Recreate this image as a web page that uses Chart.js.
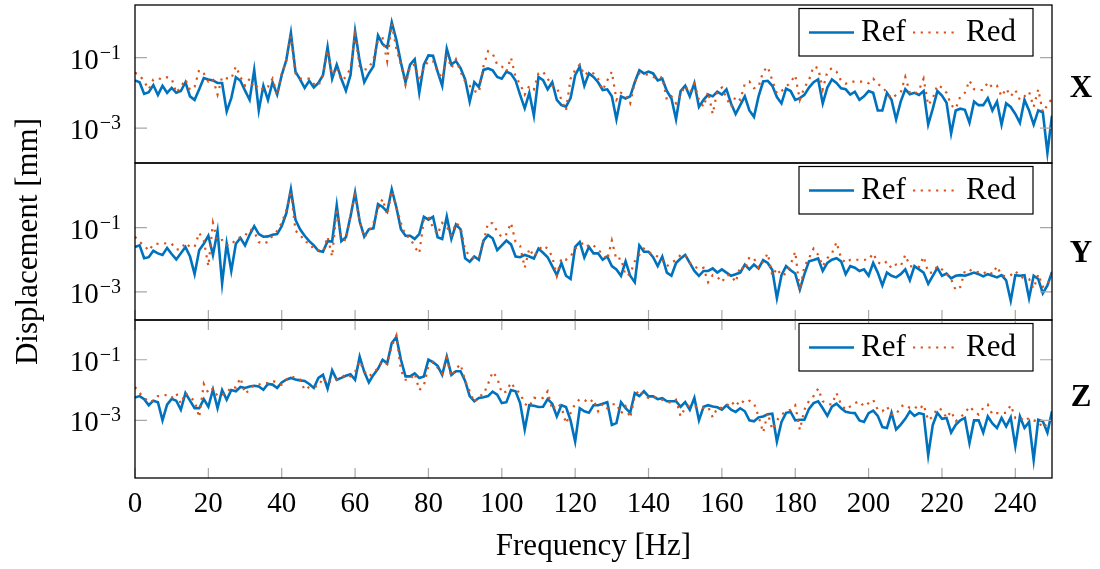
<!DOCTYPE html>
<html>
<head>
<meta charset="utf-8">
<script src="https://cdn.jsdelivr.net/npm/chart.js@4.4.0/dist/chart.umd.min.js"></script>
<style>
  body { margin: 0; background: #fff; }
  #wrap { position: relative; width: 1100px; height: 569px; }
  #wrap canvas { position: absolute; left: 0; top: 0; }
</style>
</head>
<body>
<div id="wrap">
  <canvas id="cX" width="1100" height="569"></canvas>
  <canvas id="cY" width="1100" height="569"></canvas>
  <canvas id="cZ" width="1100" height="569"></canvas>
</div>
<script>
// spacing of the frequency samples [Hz]
const freqStep = 1.25;

// values are log10 of the displacement in mm
const refX = [
  -1.65,-1.7,-2.03,-1.98,-1.78,-2.06,-1.8,-2.0,-1.86,-2.0,
  -1.95,-1.7,-2.1,-2.2,-1.9,-1.58,-1.62,-1.65,-1.72,-1.72,
  -2.53,-2.15,-1.56,-1.66,-1.94,-2.2,-1.35,-2.5,-1.8,-2.2,
  -1.7,-2.05,-1.5,-1.07,-0.3,-1.4,-1.62,-1.86,-1.66,-1.85,
  -1.72,-1.5,-0.7,-1.6,-1.2,-1.6,-1.94,-1.5,-0.25,-1.1,
  -1.7,-1.45,-1.25,-0.37,-0.62,-0.72,0.0,-0.5,-1.15,-1.7,
  -1.2,-1.05,-2.0,-1.2,-0.94,-0.95,-1.4,-1.8,-0.75,-1.2,
  -1.1,-1.3,-1.62,-2.25,-1.7,-1.84,-1.35,-1.31,-1.36,-1.55,
  -1.6,-1.4,-1.46,-1.65,-2.06,-2.44,-2.0,-2.65,-1.55,-1.64,
  -1.9,-1.7,-2.2,-2.35,-2.39,-2.15,-1.5,-1.26,-1.8,-1.45,
  -1.55,-1.7,-1.92,-1.9,-2.1,-2.75,-2.1,-2.16,-2.1,-1.7,
  -1.36,-1.45,-1.4,-1.45,-1.65,-1.6,-1.95,-2.16,-2.75,-1.95,
  -1.8,-2.1,-1.73,-2.4,-2.2,-2.05,-2.1,-1.97,-2.05,-1.9,
  -2.3,-2.6,-2.35,-2.1,-2.5,-2.68,-2.1,-1.68,-1.66,-1.8,
  -2.12,-2.3,-1.88,-1.95,-2.2,-2.15,-2.06,-1.85,-1.7,-1.62,
  -2.3,-1.85,-1.62,-1.72,-1.87,-1.9,-2.05,-1.97,-2.2,-2.1,
  -1.95,-2.0,-2.5,-2.5,-2.0,-2.2,-2.75,-2.25,-1.9,-2.04,
  -2.0,-2.06,-1.95,-2.9,-2.45,-1.95,-2.08,-2.28,-3.15,-2.5,
  -2.45,-2.48,-2.85,-2.25,-2.35,-2.35,-2.15,-2.5,-2.25,-2.9,
  -2.3,-2.4,-2.6,-2.85,-2.2,-2.5,-2.9,-2.5,-2.55,-3.7,
  -2.65
];
const redX = [
  -1.43,-1.5,-1.68,-1.9,-1.62,-1.59,-1.62,-1.56,-1.6,-2.0,
  -1.83,-1.62,-1.92,-1.83,-1.35,-1.45,-1.68,-1.6,-2.05,-1.55,
  -1.59,-1.6,-1.25,-1.55,-1.8,-1.6,-1.88,-1.78,-1.92,-1.83,
  -1.6,-2.06,-1.45,-1.1,-0.4,-1.45,-1.6,-1.6,-1.6,-1.75,
  -1.8,-1.5,-0.8,-1.5,-1.3,-1.65,-1.55,-1.3,-0.35,-1.25,
  -1.35,-1.3,-1.05,-0.5,-0.45,-1.1,-0.05,-0.75,-1.2,-1.78,
  -1.25,-1.2,-1.68,-1.28,-1.1,-1.1,-1.4,-1.6,-0.9,-1.3,
  -1.05,-1.4,-1.68,-1.8,-1.95,-2.0,-1.25,-0.82,-0.88,-1.2,
  -1.25,-1.4,-1.0,-1.55,-1.75,-2.05,-1.8,-1.9,-1.45,-1.4,
  -1.6,-1.8,-1.85,-2.2,-2.5,-1.6,-1.35,-1.2,-1.5,-1.4,
  -1.45,-1.6,-1.92,-1.65,-1.4,-2.2,-2.0,-2.05,-2.3,-1.7,
  -1.45,-1.45,-1.5,-1.55,-1.6,-1.55,-2.2,-2.1,-2.3,-2.05,
  -1.8,-2.0,-1.75,-2.2,-2.4,-1.97,-2.6,-1.95,-1.85,-2.15,
  -2.4,-2.1,-2.2,-1.75,-1.68,-1.87,-1.83,-1.4,-1.26,-1.65,
  -2.02,-1.95,-1.83,-1.7,-1.5,-2.2,-1.85,-1.64,-1.25,-1.3,
  -1.9,-1.4,-1.3,-1.4,-1.66,-1.74,-1.68,-1.68,-1.68,-1.68,
  -1.73,-1.6,-1.75,-1.83,-2.0,-2.16,-2.06,-2.0,-1.55,-2.0,
  -2.04,-1.92,-1.6,-2.35,-2.16,-1.78,-1.85,-2.0,-2.35,-2.45,
  -2.1,-2.0,-1.65,-1.9,-1.92,-1.92,-1.7,-1.85,-1.8,-2.1,
  -1.88,-2.1,-1.92,-2.2,-2.1,-1.97,-2.4,-1.9,-2.55,-2.35,
  -2.16
];
const refY = [
  -1.6,-1.55,-1.95,-1.92,-1.72,-1.8,-1.85,-1.63,-1.82,-1.99,
  -1.8,-1.6,-1.9,-2.45,-1.7,-1.5,-1.25,-1.85,-1.1,-2.74,
  -1.5,-2.35,-1.5,-1.32,-1.55,-1.22,-0.95,-1.2,-1.28,-1.27,
  -1.22,-1.2,-0.95,-0.55,0.2,-0.75,-1.05,-1.25,-1.42,-1.55,
  -1.72,-1.75,-1.42,-1.43,-0.3,-1.42,-1.3,-0.65,0.1,-0.8,
  -1.28,-1.05,-1.02,-0.26,-0.35,-0.5,0.2,-0.36,-1.05,-1.25,
  -1.25,-1.35,-1.2,-0.66,-0.75,-0.66,-1.3,-1.35,-0.65,-1.35,
  -0.9,-1.05,-1.95,-2.06,-1.9,-2.0,-1.4,-1.23,-1.33,-1.7,
  -1.55,-1.4,-1.52,-1.9,-1.92,-1.85,-1.9,-1.96,-1.65,-1.78,
  -1.92,-2.2,-2.48,-2.1,-2.5,-2.6,-1.6,-1.45,-1.93,-1.6,
  -1.8,-1.8,-2.0,-1.9,-2.2,-2.3,-2.5,-2.05,-2.5,-2.7,
  -1.55,-1.75,-1.75,-1.92,-2.2,-1.9,-2.4,-2.5,-2.1,-1.96,
  -1.85,-2.1,-2.35,-2.5,-2.35,-2.35,-2.27,-2.4,-2.3,-2.4,
  -2.5,-2.45,-2.4,-2.15,-2.3,-2.15,-2.27,-2.01,-2.1,-2.32,
  -3.2,-2.48,-2.2,-2.33,-2.43,-2.93,-2.45,-2.05,-2.01,-1.96,
  -2.35,-2.1,-2.0,-1.95,-2.05,-2.45,-2.2,-2.25,-2.35,-2.3,
  -2.5,-2.1,-2.4,-2.8,-2.4,-2.5,-2.55,-2.45,-2.3,-2.64,
  -2.2,-2.3,-2.4,-2.75,-2.5,-2.25,-2.5,-2.43,-2.58,-2.5,
  -2.48,-2.5,-2.45,-2.4,-2.45,-2.52,-2.45,-2.5,-2.55,-2.48,
  -2.64,-3.28,-2.48,-2.5,-2.48,-3.2,-2.5,-2.6,-3.05,-2.8,
  -2.38
];
const redY = [
  -1.28,-1.45,-1.55,-1.72,-1.52,-1.5,-1.5,-1.48,-1.5,-1.68,
  -1.67,-1.47,-1.6,-1.6,-1.16,-1.4,-2.2,-0.85,-1.42,-1.38,
  -1.54,-1.54,-1.35,-1.3,-1.25,-1.05,-1.12,-1.45,-1.5,-1.44,
  -1.25,-1.1,-0.85,-0.45,0.15,-1.1,-1.2,-1.44,-1.47,-1.68,
  -1.7,-1.75,-1.28,-1.9,-0.4,-1.33,-1.4,-0.6,0.0,-0.8,
  -1.3,-1.1,-0.85,-0.4,-0.1,-0.6,0.15,-0.35,-0.85,-1.25,
  -1.32,-1.6,-1.8,-0.75,-0.65,-1.0,-1.2,-0.85,-0.97,-1.23,
  -0.85,-0.98,-1.7,-1.88,-1.95,-1.96,-1.45,-0.85,-0.86,-1.12,
  -1.3,-1.2,-0.85,-1.44,-1.57,-2.25,-1.65,-1.9,-1.7,-1.55,
  -1.65,-1.9,-2.5,-1.95,-2.0,-1.9,-1.65,-1.55,-1.45,-1.6,
  -1.55,-1.7,-1.8,-2.0,-1.4,-2.0,-1.95,-2.5,-2.45,-2.05,
  -1.85,-1.65,-1.75,-1.85,-1.9,-2.0,-2.2,-2.1,-2.0,-1.85,
  -1.85,-2.1,-2.2,-2.3,-2.25,-2.7,-2.48,-2.53,-2.7,-2.48,
  -2.48,-2.7,-2.2,-2.32,-1.92,-1.96,-2.25,-2.06,-1.8,-2.5,
  -2.27,-2.5,-2.43,-2.15,-1.75,-2.95,-2.2,-1.95,-1.65,-1.85,
  -2.2,-1.95,-1.8,-1.45,-1.95,-2.1,-2.0,-2.0,-2.0,-2.0,
  -2.0,-1.8,-2.08,-2.15,-2.05,-2.27,-2.15,-2.2,-1.85,-2.2,
  -2.22,-2.22,-1.9,-2.4,-2.4,-2.2,-2.3,-2.43,-2.6,-2.95,
  -2.85,-2.35,-2.3,-2.4,-2.38,-2.43,-2.35,-2.45,-2.2,-2.48,
  -2.52,-2.48,-2.35,-2.52,-2.58,-2.6,-2.9,-2.45,-2.84,-2.78,
  -2.43
];
const refZ = [
  -2.25,-2.2,-2.3,-2.5,-2.35,-2.4,-3.0,-2.48,-2.29,-2.35,
  -2.65,-2.1,-2.35,-2.6,-2.6,-2.3,-2.55,-1.99,-2.6,-2.0,
  -2.32,-2.0,-2.04,-1.9,-1.93,-1.88,-1.86,-1.88,-1.99,-1.8,
  -1.82,-1.93,-1.75,-1.66,-1.6,-1.65,-1.68,-1.7,-1.8,-1.93,
  -1.6,-1.5,-1.95,-1.35,-1.66,-1.6,-1.53,-1.48,-1.66,-0.9,
  -1.4,-1.75,-1.5,-1.3,-1.0,-1.12,-0.45,-0.25,-1.0,-1.55,
  -1.55,-1.45,-1.6,-1.55,-1.0,-1.08,-1.2,-1.5,-0.9,-1.5,
  -1.38,-1.38,-1.7,-2.2,-2.37,-2.26,-2.24,-2.2,-2.05,-2.15,
  -2.43,-2.4,-2.0,-2.04,-2.43,-3.3,-2.5,-2.52,-2.56,-2.55,
  -2.3,-2.45,-2.87,-2.5,-2.56,-3.0,-3.7,-2.6,-2.7,-2.75,
  -2.5,-2.5,-2.45,-2.4,-3.15,-3.09,-2.4,-2.6,-2.75,-2.1,
  -2.2,-2.04,-2.21,-2.21,-2.3,-2.27,-2.37,-2.37,-2.37,-2.55,
  -2.4,-2.65,-2.26,-3.0,-2.55,-2.5,-2.54,-2.57,-2.65,-2.5,
  -2.65,-2.72,-2.6,-2.7,-3.0,-3.03,-2.9,-2.87,-2.8,-2.78,
  -3.7,-3.05,-2.75,-2.72,-3.0,-2.98,-2.98,-2.62,-2.43,-2.37,
  -2.6,-2.85,-2.55,-2.45,-2.6,-2.72,-2.75,-2.76,-3.0,-3.05,
  -2.76,-2.68,-2.85,-3.22,-3.25,-2.75,-3.3,-3.14,-2.95,-2.7,
  -2.85,-2.76,-2.8,-4.15,-3.15,-2.75,-2.95,-2.92,-3.4,-3.15,
  -3.0,-2.92,-3.75,-3.0,-3.0,-3.4,-2.87,-3.1,-3.25,-2.92,
  -3.2,-2.9,-3.85,-2.87,-3.25,-3.05,-4.3,-2.98,-3.03,-3.4,
  -2.7
];
const redZ = [
  -1.9,-2.1,-2.25,-2.4,-2.35,-2.2,-2.2,-2.15,-2.25,-2.1,
  -2.45,-2.1,-2.25,-2.35,-2.9,-1.8,-2.1,-1.95,-2.2,-2.15,
  -2.1,-1.9,-1.92,-1.6,-2.12,-1.99,-1.82,-1.82,-1.77,-1.77,
  -1.7,-1.75,-1.82,-1.66,-1.55,-1.6,-1.65,-2.0,-1.9,-1.88,
  -1.88,-1.6,-1.8,-1.65,-1.65,-1.6,-1.48,-1.55,-1.4,-1.05,
  -1.38,-1.55,-1.44,-1.27,-1.05,-1.15,-0.55,-0.2,-1.35,-1.66,
  -1.66,-1.45,-2.0,-1.85,-1.2,-1.08,-1.27,-1.45,-0.95,-1.55,
  -1.3,-1.15,-1.7,-2.04,-2.4,-2.2,-2.15,-1.8,-1.4,-1.6,
  -2.1,-2.05,-1.75,-1.98,-2.1,-2.45,-2.55,-2.25,-2.28,-2.26,
  -2.04,-2.65,-2.45,-2.55,-3.1,-2.76,-2.45,-2.3,-2.32,-2.43,
  -2.3,-2.7,-2.45,-2.6,-2.48,-2.45,-2.78,-2.54,-2.92,-2.2,
  -1.99,-2.2,-2.26,-2.21,-2.26,-2.32,-2.37,-2.43,-2.32,-2.87,
  -2.59,-2.5,-2.53,-2.59,-2.59,-2.55,-2.9,-2.59,-2.59,-2.54,
  -2.37,-2.54,-2.32,-2.43,-2.35,-2.43,-2.87,-3.4,-2.76,-3.3,
  -3.0,-2.81,-2.7,-2.65,-2.5,-3.31,-2.65,-2.35,-2.2,-1.95,
  -2.37,-2.45,-2.48,-2.1,-2.48,-2.65,-2.54,-2.43,-2.37,-2.54,
  -2.43,-2.32,-2.65,-2.7,-2.54,-2.81,-2.81,-2.54,-2.48,-2.59,
  -2.54,-2.65,-2.48,-3.0,-2.87,-2.6,-2.65,-2.92,-2.7,-3.03,
  -2.9,-2.76,-2.54,-2.7,-2.81,-2.59,-2.48,-2.81,-2.76,-2.76,
  -2.75,-2.5,-2.92,-2.9,-3.03,-2.92,-3.0,-3.03,-3.25,-3.1,
  -2.98
];

const xTicks = [0, 20, 40, 60, 80, 100, 120, 140, 160, 180, 200, 220, 240];
const yTickExps = [-1, -3];
const yTickSup = ["\u22121", "\u22123"];

const BLUE = "#0072BD";
const ORANGE = "#D95319";
const FONT = '"Liberation Serif", "Times New Roman", serif';

// one chart per panel, all canvases stacked on top of each other
const panels = [
  { canvas: "cX", name: "X", ref: refX, red: redX, top: 5, bottom: 163, yMin: -3.99, yMax: 0.49, nameBase: 97 },
  { canvas: "cY", name: "Y", ref: refY, red: redY, top: 163, bottom: 320, yMin: -3.88, yMax: 1.02, nameBase: 262, ticksBottom: true, yTitle: true },
  { canvas: "cZ", name: "Z", ref: refZ, red: redZ, top: 320, bottom: 478, yMin: -4.9, yMax: 0.31, nameBase: 406, ticksTop: true, ticksBottom: true, xLabels: true },
];

function toPoints(vals) {
  return vals.map((v, i) => ({ x: i * freqStep, y: Math.pow(10, v) }));
}

function decor(p) {
  return {
    id: "decor" + p.name,
    afterDraw(chart) {
      const ctx = chart.ctx;
      const a = chart.chartArea;
      const xs = chart.scales.x;
      const ys = chart.scales.y;
      ctx.save();

      // tick marks inside the frame
      ctx.strokeStyle = "#a8a8a8";
      ctx.lineWidth = 1.2;
      ctx.beginPath();
      yTickExps.forEach(e => {
        const y = ys.getPixelForValue(Math.pow(10, e));
        ctx.moveTo(a.left, y); ctx.lineTo(a.left + 12, y);
        ctx.moveTo(a.right, y); ctx.lineTo(a.right - 12, y);
      });
      xTicks.forEach(t => {
        const x = xs.getPixelForValue(t);
        if (p.ticksTop) { ctx.moveTo(x, a.top); ctx.lineTo(x, a.top + 10); }
        if (p.ticksBottom) { ctx.moveTo(x, a.bottom); ctx.lineTo(x, a.bottom - 10); }
      });
      ctx.stroke();

      // frame
      ctx.strokeStyle = "#000";
      ctx.lineWidth = 1.3;
      ctx.strokeRect(a.left, a.top, a.right - a.left, a.bottom - a.top);

      // y tick labels 10^-1, 10^-3
      ctx.fillStyle = "#000";
      ctx.textBaseline = "alphabetic";
      ctx.textAlign = "right";
      yTickExps.forEach((e, k) => {
        const y = ys.getPixelForValue(Math.pow(10, e));
        ctx.font = "20px " + FONT;
        const w = ctx.measureText(yTickSup[k]).width;
        ctx.fillText(yTickSup[k], 121, y + 1);
        ctx.font = "29px " + FONT;
        ctx.fillText("10", 120 - w, y + 11);
      });

      // legend box
      const lx = a.right - 19 - 234, lt = a.top + 3.5, lh = 47.5;
      ctx.fillStyle = "#fff";
      ctx.fillRect(lx, lt, 234, lh);
      ctx.strokeStyle = "#000";
      ctx.lineWidth = 1.2;
      ctx.strokeRect(lx, lt, 234, lh);
      const ly = a.top + 27.5;
      ctx.lineWidth = 2.6;
      ctx.strokeStyle = BLUE;
      ctx.beginPath(); ctx.moveTo(lx + 10, ly); ctx.lineTo(lx + 55, ly); ctx.stroke();
      ctx.lineWidth = 2.2;
      ctx.strokeStyle = ORANGE;
      ctx.setLineDash([2.2, 5.5]);
      ctx.beginPath(); ctx.moveTo(lx + 114, ly); ctx.lineTo(lx + 158, ly); ctx.stroke();
      ctx.setLineDash([]);
      ctx.fillStyle = "#000";
      ctx.font = "31px " + FONT;
      ctx.textAlign = "left";
      ctx.fillText("Ref", lx + 62, a.top + 35.5);
      ctx.fillText("Red", lx + 167, a.top + 35.5);

      // panel name on the right
      ctx.font = "bold 31px " + FONT;
      ctx.textAlign = "center";
      ctx.fillText(p.name, 1081, p.nameBase);

      if (p.yTitle) {
        ctx.save();
        ctx.translate(37, 241.5);
        ctx.rotate(-Math.PI / 2);
        ctx.font = "31px " + FONT;
        ctx.textAlign = "center";
        ctx.fillText("Displacement [mm]", 0, 0);
        ctx.restore();
      }

      if (p.xLabels) {
        ctx.font = "29px " + FONT;
        ctx.textAlign = "center";
        xTicks.forEach(t => {
          ctx.fillText(String(t), xs.getPixelForValue(t), a.bottom + 33.5);
        });
        ctx.font = "31px " + FONT;
        ctx.fillText("Frequency [Hz]", (a.left + a.right) / 2, a.bottom + 77);
      }
      ctx.restore();
    }
  };
}

panels.forEach(p => {
  new Chart(document.getElementById(p.canvas), {
    type: "line",
    data: {
      datasets: [
        {
          label: "Red",
          data: toPoints(p.red),
          borderColor: ORANGE,
          borderWidth: 2.2,
          borderDash: [2.2, 5.5],
          pointRadius: 0,
          order: 1,
        },
        {
          label: "Ref",
          data: toPoints(p.ref),
          borderColor: BLUE,
          borderWidth: 2.6,
          pointRadius: 0,
          order: 2,
        },
      ],
    },
    options: {
      responsive: false,
      animation: false,
      events: [],
      layout: { padding: { left: 135, right: 48, top: p.top, bottom: 569 - p.bottom } },
      plugins: { legend: { display: false }, tooltip: { enabled: false } },
      elements: { line: { tension: 0, borderJoinStyle: "miter" } },
      scales: {
        x: { type: "linear", min: 0, max: 250, display: false },
        y: { type: "logarithmic", min: Math.pow(10, p.yMin), max: Math.pow(10, p.yMax), display: false },
      },
    },
    plugins: [decor(p)],
  });
});
</script>
</body>
</html>
